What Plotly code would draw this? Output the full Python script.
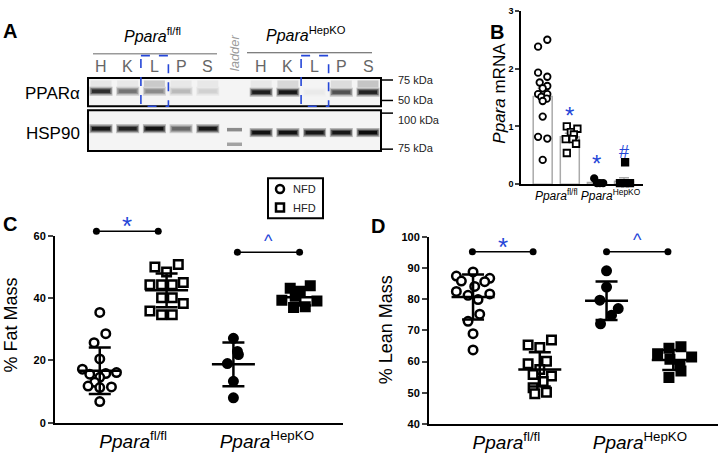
import plotly.graph_objects as go

W, H = 719, 458
FONT = "Arial, Liberation Sans, sans-serif"
BLUE = "#2546d8"
LINE_EW = 1.4  # plotly draws 'line-ew' markers 1.4 x size long

# ---------------- panel A : western blot (band intensity 0..1) ----------------
lanes = ["H", "K", "L", "P", "S", "ladder", "H", "K", "L", "P", "S"]
ppara_band = [0.85, 0.55, 0.45, 0.25, 0.15, 0.0, 0.92, 0.95, 0.04, 0.70, 0.90]
ppara_smear = [0.06, 0.05, 0.18, 0.05, 0.05, 0.0, 0.05, 0.12, 0.0, 0.10, 0.20]
hsp90_band = [0.95, 0.90, 0.97, 0.60, 0.95, 0.0, 0.97, 0.97, 0.95, 0.95, 1.0]
ladder_bands = [0.45, 0.35]
kda_labels = ["75 kDa", "50 kDa", "100 kDa", "75 kDa"]

# ---------------- panel B : Ppara mRNA ----------------
b_means = [1.52, 0.82, 0.03, 0.05]
b_err = [0.14, 0.06, 0.02, 0.06]
b_vals = [
    [2.50, 2.38, 1.93, 1.86, 1.76, 1.70, 1.66, 1.56, 1.56, 1.51, 1.48, 1.44, 1.17, 0.82, 0.79, 0.42],
    [1.00, 0.96, 0.90, 0.86, 0.78, 0.78, 0.70, 0.54],
    [0.10, 0.02, 0.02, 0.02],
    [0.38, 0.02, 0.02, 0.02],
]
b_jit = [
    [0.17, -0.17, -0.17, 0.17, -0.11, 0.17, 0.0, -0.17, 0.17, -0.05, 0.15, 0.0, 0.0, -0.17, 0.17, 0.0],
    [-0.11, 0.28, 0.04, 0.15, -0.15, 0.11, 0.23, -0.11],
    [-0.10, 0.0, 0.11, 0.23],
    [0.04, -0.15, 0.04, 0.22],
]

# ---------------- panel C : % fat mass ----------------
c_vals = [
    [35.4, 28.6, 25.7, 20.5, 17.2, 16.1, 15.8, 15.6, 14.6, 13.0, 11.8, 11.5, 11.3, 6.8],
    [50.8, 50.0, 48.4, 45.0, 44.3, 44.3, 44.3, 40.1, 40.1, 38.3, 35.9, 34.7, 34.7],
    [27.1, 22.9, 21.9, 19.0, 13.3, 8.0],
    [44.0, 43.2, 42.2, 40.6, 39.3, 39.1, 37.2, 37.0],
]
c_jit = [
    [0.0, 0.09, -0.085, 0.0, -0.26, 0.25, 0.09, -0.15, 0.0, -0.075, -0.175, 0.175, 0.0, 0.0],
    [0.175, -0.175, 0.0, 0.25, -0.25, -0.075, 0.085, -0.075, 0.085, 0.25, -0.25, -0.075, 0.085],
    [0.0, 0.06, 0.075, -0.09, 0.0, 0.0],
    [0.15, -0.15, 0.0, -0.075, -0.275, 0.25, 0.075, -0.1],
]
c_mean = [16.7, 42.5, 18.75, 40.3]
c_sd = [7.5, 5.4, 7.0, 2.7]

# ---------------- panel D : % lean mass ----------------
d_vals = [
    [88.75, 87.4, 86.7, 85.8, 85.6, 84.1, 82.5, 81.7, 81.25, 79.9, 75.2, 72.9, 68.96, 63.75],
    [66.9, 65.3, 64.5, 60.1, 59.3, 57.5, 55.9, 55.4, 53.6, 51.6, 50.2, 49.7],
    [89.1, 83.9, 79.7, 77.0, 74.9, 72.1],
    [64.8, 64.3, 62.5, 61.5, 60.8, 59.1, 57.0, 54.9],
]
d_jit = [
    [0.0, -0.25, 0.25, -0.175, 0.175, 0.025, -0.25, 0.25, -0.075, 0.075, 0.1, -0.075, 0.0, 0.0],
    [0.175, -0.175, 0.0, 0.1, -0.175, 0.0, -0.1, 0.175, 0.05, -0.1, 0.1, -0.075],
    [0.0, 0.0, -0.1, 0.175, 0.075, -0.09],
    [0.115, -0.065, -0.235, 0.275, -0.05, 0.1, 0.115, -0.065],
]
d_mean = [80.7, 57.5, 79.5, 60.5]
d_sd = [7.2, 5.5, 6.2, 3.2]

geno_ticks = ["<i>Ppara</i><sup>fl/fl</sup>", "<i>Ppara</i><sup>HepKO</sup>"]

# pixel boxes of the two scatter plotting areas (x0, x1, ytop, ybottom) and their ranges
C_BOX, C_XR, C_YR = (55, 343, 236, 428), [0.33, 4.64], [0, 60]
D_BOX, D_XR, D_YR = (429, 718, 237, 429.3), [0.34, 4.67], [40, 100]


def to_px(box, xr, yr, x, y):
    px = box[0] + (x - xr[0]) / (xr[1] - xr[0]) * (box[1] - box[0])
    py = box[3] - (y - yr[0]) / (yr[1] - yr[0]) * (box[3] - box[2])
    return px, py


fig = go.Figure()

# ---------- panel A drawn on a hidden pixel axis (x4/y4) ----------
lane_x = [101 + i * 26.7 for i in range(len(lanes))]


def gray(v, lo=244, span=232):
    g = int(lo - span * min(v, 1))
    return "rgb(%d,%d,%d)" % (g, g, g)


shapes = []
ann = []
for y0, y1 in [(74, 103), (107, 149)]:
    shapes.append(dict(type="rect", xref="x4", yref="y4", x0=88, x1=381, y0=y0, y1=y1,
                       line=dict(width=0), fillcolor="#f4f4f4", layer="below"))
    shapes.append(dict(type="rect", xref="x4", yref="y4", x0=88, x1=381, y0=y0, y1=y1,
                       line=dict(color="black", width=2)))


def band_trace(xs, ys, vals, length, thick):
    return go.Scatter(x=xs, y=ys, xaxis="x4", yaxis="y4", mode="markers", hoverinfo="skip",
                      showlegend=False,
                      marker=dict(symbol="line-ew", size=length / LINE_EW, color="black",
                                  line=dict(width=thick, color=[gray(v) for v in vals])))


def soft_band(xs, ys, vals):
    # three stacked strokes give a blurred band edge
    fig.add_trace(band_trace(xs, ys, [v * 0.3 for v in vals], 23, 9))
    fig.add_trace(band_trace(xs, ys, [v * 0.7 for v in vals], 21, 6))
    fig.add_trace(band_trace(xs, ys, vals, 18, 3.5))


keep = [i for i in range(len(lanes)) if lanes[i] != "ladder"]
kx = [lane_x[i] for i in keep]
fig.add_trace(band_trace(kx, [80] * len(keep), [ppara_smear[i] for i in keep], 21, 7))
soft_band(kx, [87.5 if i < 5 else 88.5 for i in keep], [ppara_band[i] for i in keep])
soft_band(kx, [126 if i < 5 else 130 for i in keep], [hsp90_band[i] for i in keep])
li = lanes.index("ladder")
fig.add_trace(band_trace([lane_x[li], lane_x[li]], [127, 142], ladder_bands, 15, 3.5))

for i, lab in enumerate(lanes):
    if lab == "ladder":
        ann.append(dict(xref="x4", yref="y4", x=lane_x[i], y=48, text="<i>ladder</i>", textangle=-90,
                        showarrow=False, font=dict(family=FONT, size=13, color="#9a9a9a")))
    else:
        ann.append(dict(xref="x4", yref="y4", x=lane_x[i], y=62, text=lab, showarrow=False,
                        font=dict(family=FONT, size=16, color="#666666")))

ann.append(dict(xref="x4", yref="y4", x=152, y=30, text=geno_ticks[0], showarrow=False,
                font=dict(family=FONT, size=16, color="black")))
ann.append(dict(xref="x4", yref="y4", x=306, y=29, text=geno_ticks[1], showarrow=False,
                font=dict(family=FONT, size=16, color="black")))
shapes.append(dict(type="line", xref="x4", yref="y4", x0=93, x1=217, y0=49, y1=49,
                   line=dict(color="#9a9a9a", width=1.5)))
shapes.append(dict(type="line", xref="x4", yref="y4", x0=247, x1=372, y0=48, y1=48,
                   line=dict(color="#555555", width=1.2)))
for i in [2, 8]:
    shapes.append(dict(type="rect", xref="x4", yref="y4", x0=lane_x[i] - 13.5, x1=lane_x[i] + 14,
                       y0=51, y1=103, line=dict(color=BLUE, width=1.6, dash="dash")))
ann.append(dict(xref="x4", yref="y4", x=52, y=90, text="PPARα", showarrow=False,
                font=dict(family=FONT, size=17, color="black")))
ann.append(dict(xref="x4", yref="y4", x=53, y=131, text="HSP90", showarrow=False,
                font=dict(family=FONT, size=17, color="black")))
for lab, ty, ly in zip(kda_labels, [76, 97, 110, 147], [76, 97, 117, 146]):
    shapes.append(dict(type="line", xref="x4", yref="y4", x0=381, x1=393, y0=ty, y1=ty,
                       line=dict(color="black", width=1.5)))
    ann.append(dict(xref="x4", yref="y4", x=396, y=ly, text=lab, showarrow=False, xanchor="left",
                    font=dict(family=FONT, size=11, color="#222222")))

for lab, x, y in [("A", 10, 26), ("B", 497, 27), ("C", 10, 224), ("D", 378, 226)]:
    ann.append(dict(xref="x4", yref="y4", x=x, y=y, text="<b>%s</b>" % lab, showarrow=False,
                    font=dict(family=FONT, size=20, color="black")))

# ---------- panel B ----------
b_pos = [0.8, 1.8, 2.8, 3.8]
fig.add_trace(go.Bar(x=b_pos, y=b_means, width=0.7, xaxis="x", yaxis="y", showlegend=False,
                     marker=dict(color="white", line=dict(color="#aaaaaa", width=1.5)),
                     error_y=dict(type="data", array=b_err, arrayminus=[0] * 4, symmetric=False,
                                  color="#aaaaaa", thickness=1.5, width=5)))
b_sym = ["circle", "square", "circle", "square"]
b_fill = ["white", "white", "black", "black"]
for k in range(4):
    fig.add_trace(go.Scatter(x=[b_pos[k] + j for j in b_jit[k]], y=b_vals[k], xaxis="x", yaxis="y",
                             mode="markers", showlegend=False, cliponaxis=False,
                             marker=dict(symbol=b_sym[k], size=6.5, color=b_fill[k],
                                         line=dict(color="black", width=1.8))))
for txt, x, y, sz in [("*", 1.8, 1.28, 24), ("*", 2.8, 0.44, 24), ("#", 3.8, 0.55, 18)]:
    ann.append(dict(xref="x", yref="y", x=x, y=y, text=txt, showarrow=False,
                    yshift=-5 if txt == "*" else 0, font=dict(family=FONT, size=sz, color=BLUE)))

# ---------- panels C and D ----------
grp_pos = [1, 2, 3, 4]
sym = ["circle", "square", "circle", "square"]
fill = ["white", "white", "black", "black"]


def scatter_panel(vals, jit, mean, sd, xa, ya):
    for k in range(4):
        fig.add_trace(go.Scatter(x=[grp_pos[k] + j for j in jit[k]], y=vals[k], xaxis=xa, yaxis=ya,
                                 mode="markers", showlegend=False, cliponaxis=False,
                                 marker=dict(symbol=sym[k], size=8.5, color=fill[k],
                                             line=dict(color="black", width=2.5))))
    fig.add_trace(go.Scatter(x=grp_pos, y=mean, xaxis=xa, yaxis=ya, mode="markers", showlegend=False,
                             marker=dict(symbol="line-ew", size=43 / LINE_EW, color="black",
                                         line=dict(color="black", width=2.5)),
                             error_y=dict(type="data", array=sd, color="black", thickness=2.5, width=11)))


scatter_panel(c_vals, c_jit, c_mean, c_sd, "x2", "y2")
scatter_panel(d_vals, d_jit, d_mean, d_sd, "x3", "y3")


def sig_bar(box, xr, yr, x0, x1, y, mark):
    # drawn on the pixel axis so it may sit above the top of the y range
    (p0, py), (p1, _) = to_px(box, xr, yr, x0, y), to_px(box, xr, yr, x1, y)
    fig.add_trace(go.Scatter(x=[p0, p1], y=[py, py], xaxis="x4", yaxis="y4", mode="lines+markers",
                             showlegend=False, hoverinfo="skip",
                             line=dict(color="black", width=1.5),
                             marker=dict(symbol="circle", size=7, color="black")))
    if mark == "*":
        ann.append(dict(xref="x4", yref="y4", x=(p0 + p1) / 2, y=py - 5, text="*", showarrow=False,
                        font=dict(family=FONT, size=26, color=BLUE)))
    else:
        ann.append(dict(xref="x4", yref="y4", x=(p0 + p1) / 2, y=py - 12, text="^", showarrow=False,
                        font=dict(family=FONT, size=18, color=BLUE)))


sig_bar(C_BOX, C_XR, C_YR, 0.95, 1.875, 61.5, "*")
sig_bar(C_BOX, C_XR, C_YR, 3.06, 3.99, 54.7, "^")
sig_bar(D_BOX, D_XR, D_YR, 0.99, 1.90, 95.2, "*")
sig_bar(D_BOX, D_XR, D_YR, 3.0, 3.92, 95.2, "^")

# legend box (drawn)
shapes.append(dict(type="rect", xref="x4", yref="y4", x0=268, x1=323, y0=177, y1=218,
                   line=dict(color="black", width=2), fillcolor="white", layer="below"))
fig.add_trace(go.Scatter(x=[280, 280], y=[188, 207], xaxis="x4", yaxis="y4", mode="markers",
                         showlegend=False, hoverinfo="skip",
                         marker=dict(symbol=["circle", "square"], size=8, color="white",
                                     line=dict(color="black", width=2.5))))
for lab, y in [("NFD", 188), ("HFD", 207)]:
    ann.append(dict(xref="x4", yref="y4", x=291, y=y, text=lab, showarrow=False, xanchor="left",
                    font=dict(family=FONT, size=11, color="#222222")))

ann.append(dict(xref="x4", yref="y4", x=500, y=90, text="<i>Ppara</i> mRNA", textangle=-90,
                showarrow=False, font=dict(family=FONT, size=17, color="black")))
ann.append(dict(xref="x4", yref="y4", x=11, y=328, text="% Fat Mass", textangle=-90,
                showarrow=False, font=dict(family=FONT, size=18, color="black")))
ann.append(dict(xref="x4", yref="y4", x=386, y=333, text="% Lean Mass", textangle=-90,
                showarrow=False, font=dict(family=FONT, size=18, color="black")))

ax_common = dict(showgrid=False, zeroline=False, showline=True, linecolor="black", fixedrange=True)
tickbold = dict(family=FONT, size=11, color="black", weight="bold")
c_ticks = [0, 20, 40, 60]
d_ticks = [40, 50, 60, 70, 80, 90, 100]

fig.update_layout(
    width=W, height=H, autosize=False, margin=dict(l=0, r=0, t=0, b=0),
    paper_bgcolor="white", plot_bgcolor="rgba(0,0,0,0)",
    font=dict(family=FONT, color="black"),
    barmode="overlay",
    xaxis=dict(ax_common, domain=[521 / W, 643 / W], range=[0, 4.5], anchor="y", linewidth=1.5,
               ticks="", tickvals=[1.3, 3.3], ticktext=geno_ticks,
               tickfont=dict(family=FONT, size=12, color="black")),
    yaxis=dict(ax_common, domain=[1 - 183 / H, 1 - 5 / H], range=[0, 3], anchor="x", linewidth=1.5,
               tickvals=[0, 1, 2, 3], ticktext=["<b>%d</b>" % v for v in [0, 1, 2, 3]],
               ticks="outside", ticklen=4, tickwidth=1.5,
               tickfont=dict(family=FONT, size=9, color="black")),
    xaxis2=dict(ax_common, domain=[C_BOX[0] / W, C_BOX[1] / W], range=C_XR, anchor="y2", linewidth=2,
                ticks="", tickvals=[1.5, 3.5], ticktext=geno_ticks,
                tickfont=dict(family=FONT, size=19, color="black")),
    yaxis2=dict(ax_common, domain=[1 - C_BOX[3] / H, 1 - C_BOX[2] / H], range=C_YR, anchor="x2",
                linewidth=2, tickvals=c_ticks, ticktext=["<b>%d</b>" % v for v in c_ticks],
                ticks="outside", ticklen=5, tickwidth=2, tickfont=tickbold),
    xaxis3=dict(ax_common, domain=[D_BOX[0] / W, D_BOX[1] / W], range=D_XR, anchor="y3", linewidth=2,
                ticks="", tickvals=[1.5, 3.5], ticktext=geno_ticks,
                tickfont=dict(family=FONT, size=19, color="black")),
    yaxis3=dict(ax_common, domain=[1 - D_BOX[3] / H, 1 - D_BOX[2] / H], range=D_YR, anchor="x3",
                linewidth=2, tickvals=d_ticks, ticktext=["<b>%d</b>" % v for v in d_ticks],
                ticks="outside", ticklen=5, tickwidth=2, tickfont=tickbold),
    xaxis4=dict(domain=[0, 1], range=[0, W], visible=False, fixedrange=True, anchor="y4"),
    yaxis4=dict(domain=[0, 1], range=[H, 0], visible=False, fixedrange=True, anchor="x4"),
    shapes=shapes,
    annotations=ann,
)

fig.write_html("out.html", config={"displayModeBar": False},
               post_script="document.body.style.margin='0';")
